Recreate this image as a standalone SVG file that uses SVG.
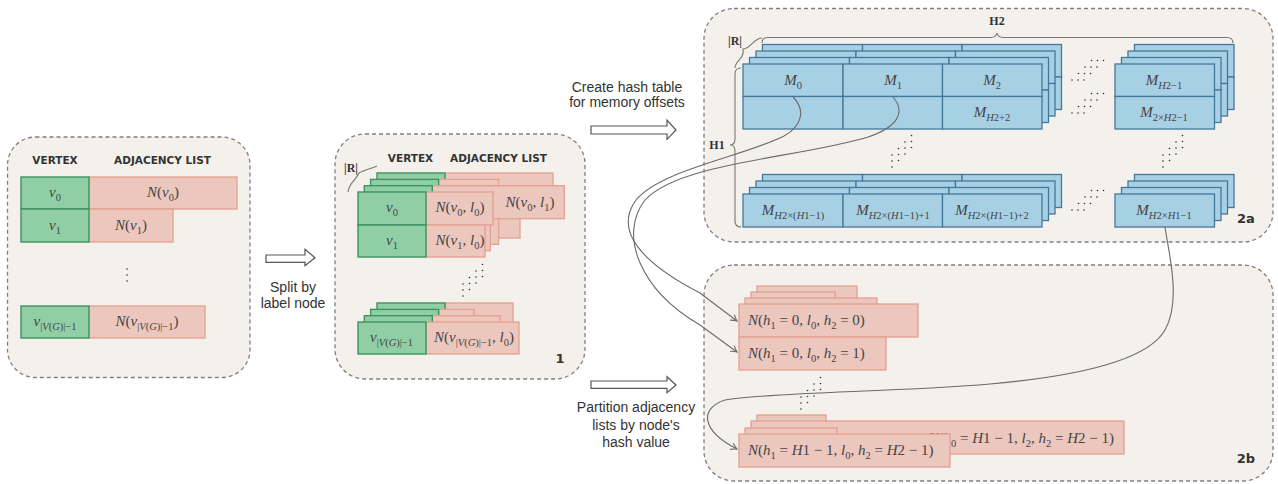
<svg xmlns="http://www.w3.org/2000/svg" xmlns:xlink="http://www.w3.org/1999/xlink" width="1278" height="484" viewBox="0 0 1278 484">
<style>
.panel{fill:#f4f1ec;stroke:#808080;stroke-width:1.3;stroke-dasharray:4 3}
.g{fill:#90cfa6;stroke:#3f935f;stroke-width:1.4}
.p{fill:#ecc7be;stroke:#e4a090;stroke-width:1.3}
.b{fill:#a7d0e5;stroke:#44789a;stroke-width:1.3}
.m{font-family:"Liberation Serif",serif;font-size:15px;fill:#444}
.i{font-style:italic}
.s{font-size:10.5px;baseline-shift:-4px}
.hdr{font-family:"DejaVu Sans",sans-serif;font-weight:bold;font-size:10.5px;fill:#333}
.lbl{font-family:"Liberation Sans",sans-serif;font-size:14px;fill:#333}
.num{font-family:"DejaVu Sans",sans-serif;font-weight:bold;font-size:13px;fill:#333}
.bl{font-family:"Liberation Serif",serif;font-weight:bold;font-size:12px;fill:#333}
.brace{fill:none;stroke:#777;stroke-width:1.1}
.conn{fill:none;stroke:#6a6a6a;stroke-width:1.1}
.barrow{fill:#fff;stroke:#555;stroke-width:1.2}
.dot{fill:#333}
</style>
<defs>
<marker id="ah" markerUnits="userSpaceOnUse" markerWidth="12" markerHeight="12" viewBox="-8 -6 10 12" refX="0" refY="0" orient="auto">
<path d="M-6,-3.5 Q-2.5,-1 0,0 Q-2.5,1 -6,3.5" fill="none" stroke="#6a6a6a" stroke-width="1.1"/>
</marker>
<clipPath id="backclip"><path d="M740,400 L1130,400 L1130,460 L951,460 L951,434 L740,434 Z"/></clipPath>
<g id="hd3"><circle class="dot" cx="0" cy="0" r="0.8"/><circle class="dot" cx="6" cy="0" r="0.8"/><circle class="dot" cx="12" cy="0" r="0.8"/></g>
<g id="vd3"><circle class="dot" cx="0" cy="0" r="0.8"/><circle class="dot" cx="0" cy="6" r="0.8"/><circle class="dot" cx="0" cy="12" r="0.8"/></g>
<g id="hdots"><use xlink:href="#hd3"/><use xlink:href="#hd3" transform="translate(6.5,-6.5)"/><use xlink:href="#hd3" transform="translate(13,-13)"/><use xlink:href="#hd3" transform="translate(19.5,-19.5)"/></g>
<g id="vdots"><use xlink:href="#vd3"/><use xlink:href="#vd3" transform="translate(6.5,-6.5)"/><use xlink:href="#vd3" transform="translate(13,-13)"/><use xlink:href="#vd3" transform="translate(19.5,-19.5)"/></g>
<g id="top3">
<rect class="b" x="743" y="64" width="100" height="32.5"/><rect class="b" x="843" y="64" width="99.5" height="32.5"/><rect class="b" x="942.5" y="64" width="99.5" height="32.5"/>
<rect class="b" x="743" y="96.5" width="100" height="32.5"/><rect class="b" x="843" y="96.5" width="99.5" height="32.5"/><rect class="b" x="942.5" y="96.5" width="99.5" height="32.5"/>
</g>
<g id="topR"><rect class="b" x="1115" y="64" width="99.5" height="32.5"/><rect class="b" x="1115" y="96.5" width="99.5" height="32.5"/></g>
<g id="bot3"><rect class="b" x="743" y="194" width="100" height="33"/><rect class="b" x="843" y="194" width="99.5" height="33"/><rect class="b" x="942.5" y="194" width="99.5" height="33"/></g>
<g id="botR"><rect class="b" x="1115" y="194" width="99.5" height="33"/></g>
</defs>

<g id="panel0">
<rect class="panel" x="7.5" y="137" width="242.5" height="240.5" rx="28"/>
<text class="hdr" x="55" y="164" text-anchor="middle">VERTEX</text>
<text class="hdr" x="162.5" y="164" text-anchor="middle">ADJACENCY LIST</text>
<rect class="p" x="89" y="177" width="148" height="32"/>
<rect class="p" x="89" y="209" width="84" height="33"/>
<rect class="g" x="21" y="177" width="68" height="32"/>
<rect class="g" x="21" y="209" width="68" height="33"/>
<text class="m" x="55" y="197" text-anchor="middle"><tspan class="i">v</tspan><tspan class="s">0</tspan></text>
<text class="m" x="55" y="230" text-anchor="middle"><tspan class="i">v</tspan><tspan class="s">1</tspan></text>
<text class="m" x="163" y="197" text-anchor="middle"><tspan class="i">N</tspan>(<tspan class="i">v</tspan><tspan class="s">0</tspan>)</text>
<text class="m" x="131" y="230" text-anchor="middle"><tspan class="i">N</tspan>(<tspan class="i">v</tspan><tspan class="s">1</tspan>)</text>
<use xlink:href="#vd3" transform="translate(127,269)"/>
<rect class="p" x="89" y="306" width="116" height="32"/>
<rect class="g" x="21" y="306" width="68" height="32"/>
<text class="m" x="55" y="326" text-anchor="middle"><tspan class="i">v</tspan><tspan class="s">|<tspan class="i">V</tspan>(<tspan class="i">G</tspan>)|−1</tspan></text>
<text class="m" x="147" y="326" text-anchor="middle"><tspan class="i">N</tspan>(<tspan class="i">v</tspan><tspan class="s">|<tspan class="i">V</tspan>(<tspan class="i">G</tspan>)|−1</tspan>)</text>
</g>

<g id="panel1">
<rect class="panel" x="335" y="134" width="250" height="245" rx="30"/>
<text class="hdr" x="410.5" y="162" text-anchor="middle">VERTEX</text>
<text class="hdr" x="498.5" y="162" text-anchor="middle">ADJACENCY LIST</text>
<text class="bl" x="351" y="172" text-anchor="middle">|R|</text>
<path class="brace" d="M348,192 C349,183 356,180 359,173 C364,170 371,169 377,166"/>
<rect class="p" x="445" y="173" width="108" height="33"/><rect class="p" x="445" y="206" width="75" height="32"/>
<rect class="g" x="377" y="173" width="68" height="33"/><rect class="g" x="377" y="206" width="68" height="32"/>
<rect class="p" x="438.6" y="179.4" width="60" height="33"/><rect class="p" x="438.6" y="212.4" width="60" height="32"/>
<rect class="g" x="370.6" y="179.4" width="68" height="33"/><rect class="g" x="370.6" y="212.4" width="68" height="32"/>
<rect class="p" x="432.3" y="218.7" width="58" height="32"/>
<rect class="p" x="432.3" y="185.7" width="132" height="33"/>
<rect class="g" x="364.3" y="185.7" width="68" height="33"/><rect class="g" x="364.3" y="218.7" width="68" height="32"/>
<text class="m" x="530" y="207" text-anchor="middle"><tspan class="i">N</tspan>(<tspan class="i">v</tspan><tspan class="s">0</tspan>, <tspan class="i">l</tspan><tspan class="s">1</tspan>)</text>
<rect class="p" x="426" y="192" width="67" height="33"/><rect class="p" x="426" y="225" width="59" height="32"/>
<rect class="g" x="358" y="192" width="68" height="33"/><rect class="g" x="358" y="225" width="68" height="32"/>
<text class="m" x="392" y="212" text-anchor="middle"><tspan class="i">v</tspan><tspan class="s">0</tspan></text>
<text class="m" x="392" y="245" text-anchor="middle"><tspan class="i">v</tspan><tspan class="s">1</tspan></text>
<text class="m" x="460" y="212" text-anchor="middle"><tspan class="i">N</tspan>(<tspan class="i">v</tspan><tspan class="s">0</tspan>, <tspan class="i">l</tspan><tspan class="s">0</tspan>)</text>
<text class="m" x="460" y="245" text-anchor="middle"><tspan class="i">N</tspan>(<tspan class="i">v</tspan><tspan class="s">1</tspan>, <tspan class="i">l</tspan><tspan class="s">0</tspan>)</text>
<use xlink:href="#vdots" transform="translate(463,284)"/>
<rect class="p" x="445" y="303" width="68" height="32"/><rect class="g" x="377" y="303" width="68" height="32"/>
<rect class="p" x="438.6" y="309.4" width="35.4" height="32"/><rect class="g" x="370.6" y="309.4" width="68" height="32"/>
<rect class="p" x="432.3" y="315.7" width="67.7" height="32"/><rect class="g" x="364.3" y="315.7" width="68" height="32"/>
<rect class="p" x="426" y="322" width="93" height="32"/><rect class="g" x="358" y="322" width="68" height="32"/>
<text class="m" x="391.5" y="342" text-anchor="middle"><tspan class="i">v</tspan><tspan class="s">|<tspan class="i">V</tspan>(<tspan class="i">G</tspan>)|−1</tspan></text>
<text class="m" x="474" y="342" text-anchor="middle"><tspan class="i">N</tspan>(<tspan class="i">v</tspan><tspan class="s">|<tspan class="i">V</tspan>(<tspan class="i">G</tspan>)|−1</tspan>, <tspan class="i">l</tspan><tspan class="s">0</tspan>)</text>
<text class="num" x="560" y="363" text-anchor="middle">1</text>
</g>

<g id="arrow-split">
<path class="barrow" d="M266,255 L305,255 L305,249.3 L315,257.7 L305,265.7 L305,262.3 L266,262.3 Z"/>
<text class="lbl" x="293" y="292" text-anchor="middle">Split by</text>
<text class="lbl" x="293" y="308" text-anchor="middle">label node</text>
</g>

<g id="arrow-hash">
<text class="lbl" x="627" y="92" text-anchor="middle">Create hash table</text>
<text class="lbl" x="627" y="107" text-anchor="middle">for memory offsets</text>
<path class="barrow" d="M591,126 L667,126 L667,120 L676,130 L667,139.3 L667,134 L591,134 Z"/>
</g>

<g id="arrow-part">
<path class="barrow" d="M591,381 L667,381 L667,376.7 L676,385 L667,392.7 L667,388.3 L591,388.3 Z"/>
<text class="lbl" x="636" y="412" text-anchor="middle">Partition adjacency</text>
<text class="lbl" x="636" y="430" text-anchor="middle">lists by node's</text>
<text class="lbl" x="636" y="447" text-anchor="middle">hash value</text>
</g>

<g id="panel2a">
<rect class="panel" x="704" y="8.5" width="569" height="233.5" rx="30"/>
<text class="bl" x="997" y="25" text-anchor="middle">H2</text>
<text class="bl" x="717" y="149" text-anchor="middle">H1</text>
<text class="bl" x="735" y="45" text-anchor="middle">|R|</text>
<path class="brace" d="M762,43 Q762,37.5 768,37.5 L991,37.5 Q996,37.5 997,33 Q998,37.5 1003,37.5 L1227,37.5 Q1233,37.5 1233,43"/>
<path class="brace" d="M741,68 Q735,68 735,74 L735,139 Q735,145 730,145 Q735,145 735,151 L735,221 Q735,227 741,227"/>
<path class="brace" d="M735,68 C735,60 745,59 743,49 C750,49 754,38 762,38"/>
<use xlink:href="#top3" transform="translate(19.5,-19.5)"/>
<use xlink:href="#top3" transform="translate(13,-13)"/>
<use xlink:href="#top3" transform="translate(6.5,-6.5)"/>
<use xlink:href="#top3"/>
<use xlink:href="#topR" transform="translate(19.5,-19.5)"/>
<use xlink:href="#topR" transform="translate(13,-13)"/>
<use xlink:href="#topR" transform="translate(6.5,-6.5)"/>
<use xlink:href="#topR"/>
<use xlink:href="#bot3" transform="translate(19.5,-19.5)"/>
<use xlink:href="#bot3" transform="translate(13,-13)"/>
<use xlink:href="#bot3" transform="translate(6.5,-6.5)"/>
<use xlink:href="#bot3"/>
<use xlink:href="#botR" transform="translate(19.5,-19.5)"/>
<use xlink:href="#botR" transform="translate(13,-13)"/>
<use xlink:href="#botR" transform="translate(6.5,-6.5)"/>
<use xlink:href="#botR"/>
<text class="m" x="793" y="85" text-anchor="middle"><tspan class="i">M</tspan><tspan class="s">0</tspan></text>
<text class="m" x="893" y="85" text-anchor="middle"><tspan class="i">M</tspan><tspan class="s">1</tspan></text>
<text class="m" x="992" y="85" text-anchor="middle"><tspan class="i">M</tspan><tspan class="s">2</tspan></text>
<text class="m" x="992" y="117" text-anchor="middle"><tspan class="i">M</tspan><tspan class="s"><tspan class="i">H</tspan>2+2</tspan></text>
<text class="m" x="1164" y="85" text-anchor="middle"><tspan class="i">M</tspan><tspan class="s"><tspan class="i">H</tspan>2−1</tspan></text>
<text class="m" x="1164" y="117" text-anchor="middle"><tspan class="i">M</tspan><tspan class="s">2×<tspan class="i">H</tspan>2−1</tspan></text>
<text class="m" x="793" y="215" text-anchor="middle"><tspan class="i">M</tspan><tspan class="s"><tspan class="i">H</tspan>2×(<tspan class="i">H</tspan>1−1)</tspan></text>
<text class="m" x="893" y="215" text-anchor="middle"><tspan class="i">M</tspan><tspan class="s"><tspan class="i">H</tspan>2×(<tspan class="i">H</tspan>1−1)+1</tspan></text>
<text class="m" x="992" y="215" text-anchor="middle"><tspan class="i">M</tspan><tspan class="s"><tspan class="i">H</tspan>2×(<tspan class="i">H</tspan>1−1)+2</tspan></text>
<text class="m" x="1164" y="215" text-anchor="middle"><tspan class="i">M</tspan><tspan class="s"><tspan class="i">H</tspan>2×<tspan class="i">H</tspan>1−1</tspan></text>
<use xlink:href="#hdots" transform="translate(1072,80)"/>
<use xlink:href="#hdots" transform="translate(1072,113)"/>
<use xlink:href="#hdots" transform="translate(1072,210)"/>
<use xlink:href="#vdots" transform="translate(892,155)"/>
<use xlink:href="#vdots" transform="translate(1163,155)"/>
<text class="num" x="1246" y="223" text-anchor="middle">2a</text>
</g>

<g id="panel2b">
<rect class="panel" x="704" y="265" width="569" height="216" rx="30"/>
<rect class="p" x="757" y="286" width="100" height="33"/>
<rect class="p" x="751" y="292" width="84" height="33"/>
<rect class="p" x="745" y="298" width="132" height="33"/>
<rect class="p" x="739" y="304" width="179" height="33"/>
<rect class="p" x="739" y="337" width="147" height="33"/>
<text class="m" x="748" y="325"><tspan class="i">N</tspan>(<tspan class="i">h</tspan><tspan class="s">1</tspan> = 0, <tspan class="i">l</tspan><tspan class="s">0</tspan>, <tspan class="i">h</tspan><tspan class="s">2</tspan> = 0)</text>
<text class="m" x="748" y="358"><tspan class="i">N</tspan>(<tspan class="i">h</tspan><tspan class="s">1</tspan> = 0, <tspan class="i">l</tspan><tspan class="s">0</tspan>, <tspan class="i">h</tspan><tspan class="s">2</tspan> = 1)</text>
<use xlink:href="#vdots" transform="translate(801,397)"/>
<rect class="p" x="757" y="415" width="69" height="33"/>
<rect class="p" x="751" y="421" width="373" height="33"/>
<text class="m" x="1114" y="443" text-anchor="end" clip-path="url(#backclip)"><tspan class="i">N</tspan>(<tspan class="i">h</tspan><tspan class="s">0</tspan> = <tspan class="i">H</tspan>1 − 1, <tspan class="i">l</tspan><tspan class="s">2</tspan>, <tspan class="i">h</tspan><tspan class="s">2</tspan> = <tspan class="i">H</tspan>2 − 1)</text>
<rect class="p" x="745" y="428" width="92" height="33"/>
<rect class="p" x="739" y="434" width="211" height="33"/>
<text class="m" x="748" y="455"><tspan class="i">N</tspan>(<tspan class="i">h</tspan><tspan class="s">1</tspan> = <tspan class="i">H</tspan>1 − 1, <tspan class="i">l</tspan><tspan class="s">0</tspan>, <tspan class="i">h</tspan><tspan class="s">2</tspan> = <tspan class="i">H</tspan>2 − 1)</text>
<text class="num" x="1246" y="463" text-anchor="middle">2b</text>
</g>

<g id="connectors">
<path class="conn" marker-end="url(#ah)" d="M793,97 C806,110 802,126 784,136 C745,156 660,170 636,200 C614,230 640,262 700,293 L737,321"/>
<path class="conn" marker-end="url(#ah)" d="M893,97 C906,112 898,127 868,137 C800,158 680,162 645,200 C618,235 640,290 700,325 L737,352"/>
<path class="conn" marker-end="url(#ah)" d="M1165,227 C1168,250 1182,300 1165,330 C1148,360 1080,376 990,384 C900,392 770,392 725,400 C700,408 700,430 737,449"/>
</g>
</svg>
